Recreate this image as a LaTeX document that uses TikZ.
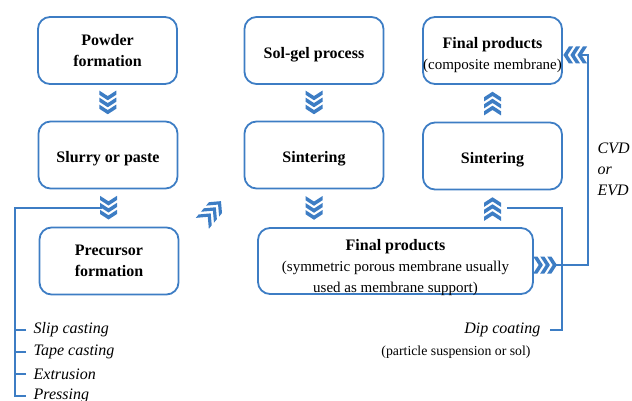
\documentclass[tikz,border=0pt]{standalone}
\usepackage{fontspec}
\setmainfont{Liberation Serif}
\usetikzlibrary{calc}
\definecolor{procblue}{RGB}{61,125,196}
\newcommand\subtxt[1]{{\fontsize{15}{21}\selectfont\mdseries #1}}

\begin{document}
\begin{tikzpicture}[x=1pt, y=-1pt, line width=1.3pt]

  % styles
  \tikzset{
    stepBox/.style={
      draw=procblue, line width=1.8pt, rounded corners=12pt,
      minimum width=139pt, minimum height=67pt, inner xsep=0pt,
      align=center, font=\fontsize{16}{21}\selectfont\bfseries
    },
    oneLine/.style={text height=15.6pt, text depth=0pt},
    boxText/.style={align=center, font=\fontsize{16}{21}\selectfont\bfseries},
    methodText/.style={
      font=\fontsize{16}{21}\selectfont\itshape, inner xsep=7pt
    },
    %三つ並んだ山形の矢印（+x 向き）
    chevrons/.pic={
      \foreach \d in {-8,-1,6} {
        \fill[procblue] (\d,-8.5) -- (\d+5.5,0) -- (\d,8.5)
          -- (\d-4.2,8.5) -- (\d+1.3,0) -- (\d-4.2,-8.5) -- cycle;
      }
    },
    %開きの広い山形（斜め用）
    wideChevrons/.pic={
      \foreach \d in {-9,-1,7} {
        \fill[procblue] (\d,-8.5) -- (\d+8.5,0) -- (\d,8.5)
          -- (\d-4.5,8.5) -- (\d+4,0) -- (\d-4.5,-8.5) -- cycle;
      }
    }
  }
  \useasboundingbox (0,0) rectangle (632,401);
  \clip (0,0) rectangle (632,401);

  % boxes
  \node[stepBox] (powder) at (107.5,50.5) {Powder\\formation};
  \node[stepBox, oneLine] (slurry) at (108,155) {Slurry or paste};
  \node[stepBox] (precursor) at (109,261) {Precursor\\formation};
  \node[stepBox, oneLine] (solgel) at (314,50.5) {Sol-gel process};
  \node[stepBox, oneLine] (sinterA) at (314,155) {Sintering};
  \node[stepBox, minimum width=275pt, minimum height=66pt] (finalA) at (395.5,261) {};
  \node[boxText] (finalAText) at ($(finalA.center)+(0,6.5)$)
    {Final products\\\subtxt{(symmetric porous membrane usually}\\\subtxt{used as membrane support)}};
  \node[stepBox, oneLine] (sinterB) at (492.5,156) {Sintering};
  \node[stepBox] (composite) at (492.5,50.5) {};
  \node[boxText, inner xsep=0pt] (compositeText) at ($(composite.center)+(0,4.5)$)
    {Final products\\\subtxt{(composite membrane)}};

  % chevron arrows
  \pic[rotate=-90] at ($(powder.south)!0.5!(slurry.north)$) {chevrons};
  \pic[rotate=-90] at ($(slurry.south)!0.5!(precursor.north)$) {chevrons};
  \pic[rotate=-90] at ($(solgel.south)!0.5!(sinterA.north)$) {chevrons};
  \pic[rotate=-90] at ($(sinterA.south)!0.5!(sinterA.south|-finalA.north)$) {chevrons};
  \pic[rotate=90] at ($(sinterB.north)!0.5!(composite.south)$) {chevrons};
  \pic[rotate=90] at ($(sinterB.south)!0.5!(sinterB.south|-finalA.north)$) {chevrons};
  \pic[rotate=50] at (211,213) {wideChevrons};
  \pic at ($(finalA.east)+(11.5,4)$) {chevrons};
  \pic[rotate=180] at ($(composite.east)+(12,4.5)$) {chevrons};

  % forming methods
  \node[methodText, anchor=west] (slip) at (26,330) {Slip casting};
  \node[methodText, anchor=west] (tape) at (26,352) {Tape casting};
  \node[methodText, anchor=west] (extrusion) at (26,374) {Extrusion};
  \node[methodText, anchor=west] (pressing) at (26,396) {Pressing};
  \coordinate (leftTap) at (102,208);
  \draw[procblue] (leftTap) -- (15,208) -- (15,396) -- (pressing.west);
  \foreach \m in {slip,tape,extrusion} {
    \draw[procblue] (\m.west) -- ++(-11,0);
  }

  % dip coating
  \node[methodText, anchor=east, inner xsep=9pt] (dip) at (550,330) {Dip coating};
  \node[font=\fontsize{13.8}{16}\selectfont] (dipNote) at (456,352) {(particle suspension or sol)};
  \coordinate (dipTap) at (507,208);
  \draw[procblue] (dipTap) -- (562,208) -- (562,330) -- (dip.east);

  % CVD / EVD
  \node[methodText, anchor=west, inner xsep=0pt, align=left] (cvd) at (597,169) {CVD\\or\\EVD};
  \coordinate (cvdFrom) at (553,265);
  \coordinate (cvdTo) at (578,55);
  \draw[procblue] (cvdFrom) -- (588,265) -- (588,55) -- (cvdTo);

\end{tikzpicture}
\end{document}
